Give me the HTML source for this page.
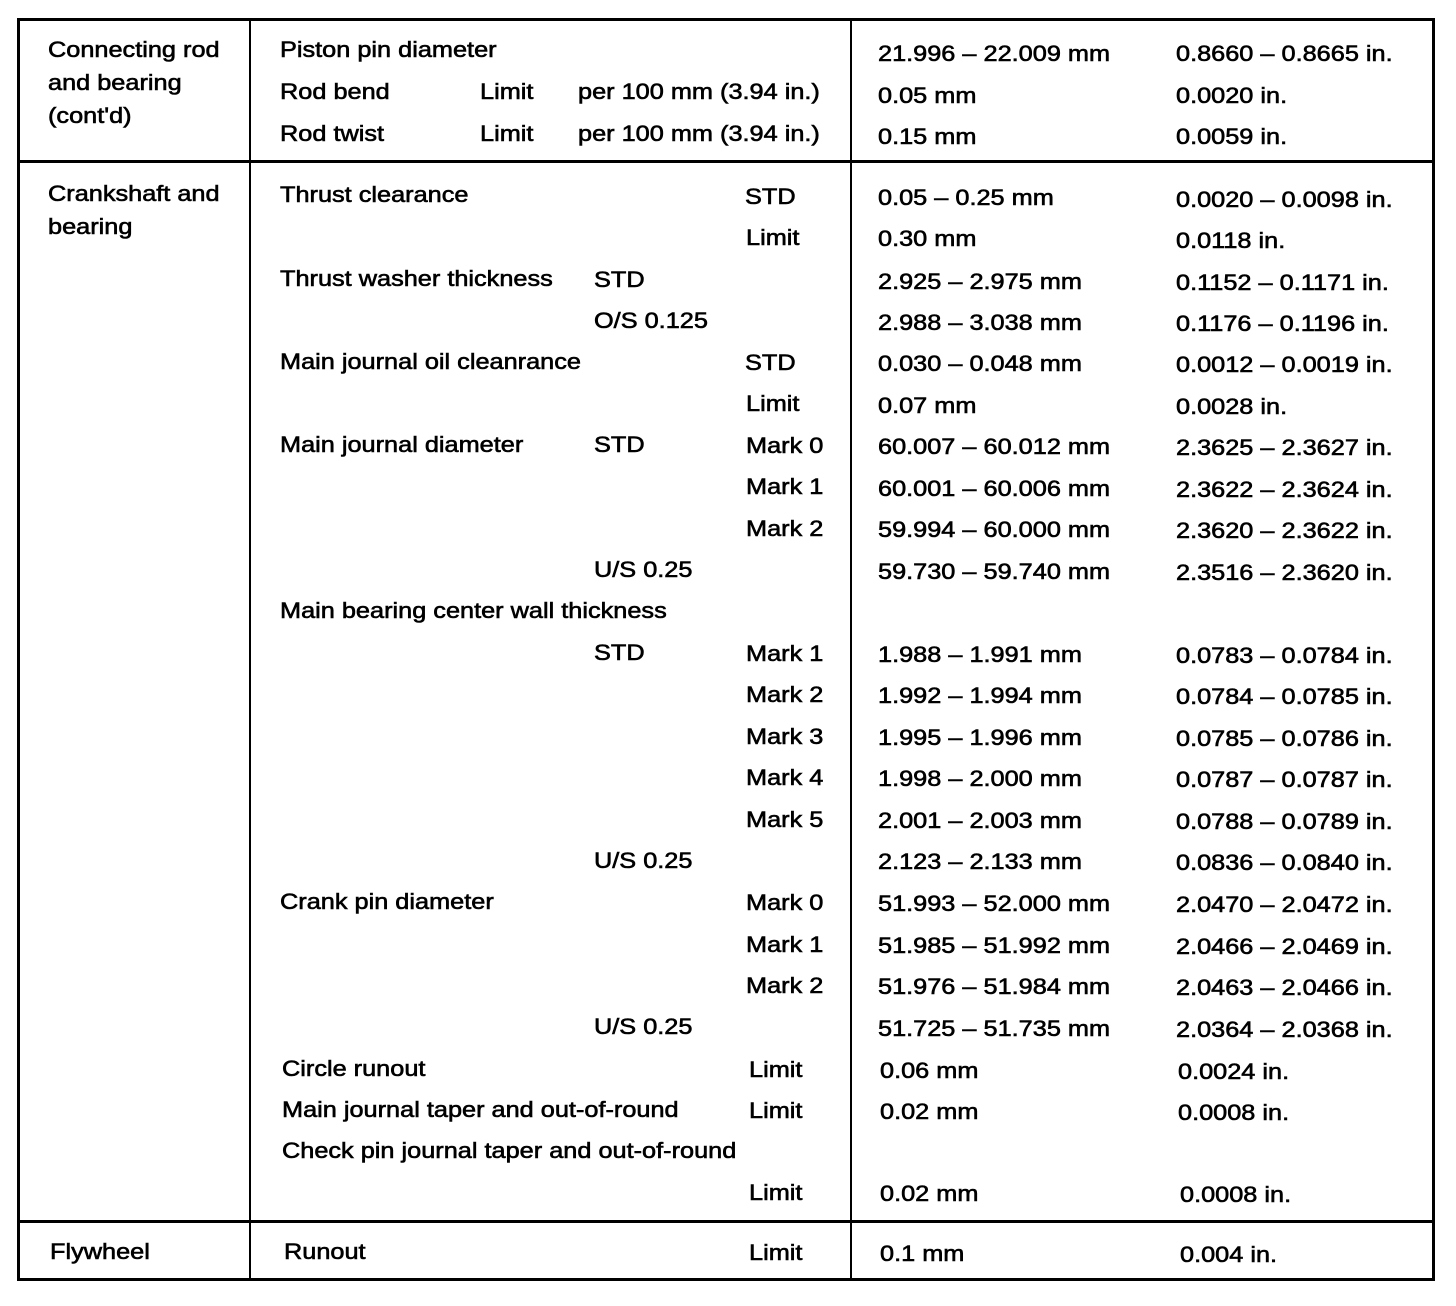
<!DOCTYPE html>
<html><head><meta charset="utf-8"><style>
body{margin:0;background:#fff;width:1456px;height:1306px;position:relative;overflow:hidden;font-family:"Liberation Sans",Arial,sans-serif;}
.t{position:absolute;font-size:22px;line-height:26px;color:#000;white-space:nowrap;-webkit-text-stroke:0.6px #000;transform:scaleX(1.15);transform-origin:0 0;}
.h{position:absolute;height:3px;background:#000;}
.v{position:absolute;width:2px;background:#000;}
</style></head><body>
<div class="h" style="left:17px;top:18px;width:1418px"></div>
<div class="h" style="left:17px;top:160px;width:1418px"></div>
<div class="h" style="left:17px;top:1220px;width:1418px"></div>
<div class="h" style="left:17px;top:1278px;width:1418px"></div>
<div class="v" style="left:17px;top:18px;height:1263px;width:3px"></div>
<div class="v" style="left:1432px;top:18px;height:1263px;width:3px"></div>
<div class="v" style="left:249px;top:18px;height:1263px"></div>
<div class="v" style="left:850px;top:18px;height:1263px"></div>

<div class="t" style="left:48px;top:37px">Connecting rod</div>
<div class="t" style="left:48px;top:70px">and bearing</div>
<div class="t" style="left:48px;top:103px">(cont'd)</div>
<div class="t" style="left:48px;top:181px">Crankshaft and</div>
<div class="t" style="left:48px;top:214px">bearing</div>
<div class="t" style="left:50px;top:1239px">Flywheel</div>

<div class="t" style="left:280px;top:37px">Piston pin diameter</div>
<div class="t" style="left:280px;top:79px">Rod bend</div>
<div class="t" style="left:480px;top:79px">Limit</div>
<div class="t" style="left:578px;top:79px">per 100 mm (3.94 in.)</div>
<div class="t" style="left:280px;top:121px">Rod twist</div>
<div class="t" style="left:480px;top:121px">Limit</div>
<div class="t" style="left:578px;top:121px">per 100 mm (3.94 in.)</div>
<div class="t" style="left:878px;top:41px">21.996 – 22.009 mm</div>
<div class="t" style="left:1176px;top:41px">0.8660 – 0.8665 in.</div>
<div class="t" style="left:878px;top:83px">0.05 mm</div>
<div class="t" style="left:1176px;top:83px">0.0020 in.</div>
<div class="t" style="left:878px;top:124px">0.15 mm</div>
<div class="t" style="left:1176px;top:124px">0.0059 in.</div>

<div class="t" style="left:280px;top:182px">Thrust clearance</div>
<div class="t" style="left:745px;top:184px">STD</div>
<div class="t" style="left:878px;top:185px">0.05 – 0.25 mm</div>
<div class="t" style="left:1176px;top:187px">0.0020 – 0.0098 in.</div>
<div class="t" style="left:746px;top:225px">Limit</div>
<div class="t" style="left:878px;top:226px">0.30 mm</div>
<div class="t" style="left:1176px;top:228px">0.0118 in.</div>
<div class="t" style="left:280px;top:266px">Thrust washer thickness</div>
<div class="t" style="left:594px;top:267px">STD</div>
<div class="t" style="left:878px;top:269px">2.925 – 2.975 mm</div>
<div class="t" style="left:1176px;top:270px">0.1152 – 0.1171 in.</div>
<div class="t" style="left:594px;top:308px">O/S 0.125</div>
<div class="t" style="left:878px;top:310px">2.988 – 3.038 mm</div>
<div class="t" style="left:1176px;top:311px">0.1176 – 0.1196 in.</div>
<div class="t" style="left:280px;top:349px">Main journal oil cleanrance</div>
<div class="t" style="left:745px;top:350px">STD</div>
<div class="t" style="left:878px;top:351px">0.030 – 0.048 mm</div>
<div class="t" style="left:1176px;top:352px">0.0012 – 0.0019 in.</div>
<div class="t" style="left:746px;top:391px">Limit</div>
<div class="t" style="left:878px;top:393px">0.07 mm</div>
<div class="t" style="left:1176px;top:394px">0.0028 in.</div>
<div class="t" style="left:280px;top:432px">Main journal diameter</div>
<div class="t" style="left:594px;top:432px">STD</div>
<div class="t" style="left:746px;top:433px">Mark 0</div>
<div class="t" style="left:878px;top:434px">60.007 – 60.012 mm</div>
<div class="t" style="left:1176px;top:435px">2.3625 – 2.3627 in.</div>
<div class="t" style="left:746px;top:474px">Mark 1</div>
<div class="t" style="left:878px;top:476px">60.001 – 60.006 mm</div>
<div class="t" style="left:1176px;top:477px">2.3622 – 2.3624 in.</div>
<div class="t" style="left:746px;top:516px">Mark 2</div>
<div class="t" style="left:878px;top:517px">59.994 – 60.000 mm</div>
<div class="t" style="left:1176px;top:518px">2.3620 – 2.3622 in.</div>
<div class="t" style="left:594px;top:557px">U/S 0.25</div>
<div class="t" style="left:878px;top:559px">59.730 – 59.740 mm</div>
<div class="t" style="left:1176px;top:560px">2.3516 – 2.3620 in.</div>
<div class="t" style="left:280px;top:598px">Main bearing center wall thickness</div>
<div class="t" style="left:594px;top:640px">STD</div>
<div class="t" style="left:746px;top:641px">Mark 1</div>
<div class="t" style="left:878px;top:642px">1.988 – 1.991 mm</div>
<div class="t" style="left:1176px;top:643px">0.0783 – 0.0784 in.</div>
<div class="t" style="left:746px;top:682px">Mark 2</div>
<div class="t" style="left:878px;top:683px">1.992 – 1.994 mm</div>
<div class="t" style="left:1176px;top:684px">0.0784 – 0.0785 in.</div>
<div class="t" style="left:746px;top:724px">Mark 3</div>
<div class="t" style="left:878px;top:725px">1.995 – 1.996 mm</div>
<div class="t" style="left:1176px;top:726px">0.0785 – 0.0786 in.</div>
<div class="t" style="left:746px;top:765px">Mark 4</div>
<div class="t" style="left:878px;top:766px">1.998 – 2.000 mm</div>
<div class="t" style="left:1176px;top:767px">0.0787 – 0.0787 in.</div>
<div class="t" style="left:746px;top:807px">Mark 5</div>
<div class="t" style="left:878px;top:808px">2.001 – 2.003 mm</div>
<div class="t" style="left:1176px;top:809px">0.0788 – 0.0789 in.</div>
<div class="t" style="left:594px;top:848px">U/S 0.25</div>
<div class="t" style="left:878px;top:849px">2.123 – 2.133 mm</div>
<div class="t" style="left:1176px;top:850px">0.0836 – 0.0840 in.</div>
<div class="t" style="left:280px;top:889px">Crank pin diameter</div>
<div class="t" style="left:746px;top:890px">Mark 0</div>
<div class="t" style="left:878px;top:891px">51.993 – 52.000 mm</div>
<div class="t" style="left:1176px;top:892px">2.0470 – 2.0472 in.</div>
<div class="t" style="left:746px;top:932px">Mark 1</div>
<div class="t" style="left:878px;top:933px">51.985 – 51.992 mm</div>
<div class="t" style="left:1176px;top:934px">2.0466 – 2.0469 in.</div>
<div class="t" style="left:746px;top:973px">Mark 2</div>
<div class="t" style="left:878px;top:974px">51.976 – 51.984 mm</div>
<div class="t" style="left:1176px;top:975px">2.0463 – 2.0466 in.</div>
<div class="t" style="left:594px;top:1014px">U/S 0.25</div>
<div class="t" style="left:878px;top:1016px">51.725 – 51.735 mm</div>
<div class="t" style="left:1176px;top:1017px">2.0364 – 2.0368 in.</div>
<div class="t" style="left:282px;top:1056px">Circle runout</div>
<div class="t" style="left:749px;top:1057px">Limit</div>
<div class="t" style="left:880px;top:1058px">0.06 mm</div>
<div class="t" style="left:1178px;top:1059px">0.0024 in.</div>
<div class="t" style="left:282px;top:1097px">Main journal taper and out-of-round</div>
<div class="t" style="left:749px;top:1098px">Limit</div>
<div class="t" style="left:880px;top:1099px">0.02 mm</div>
<div class="t" style="left:1178px;top:1100px">0.0008 in.</div>
<div class="t" style="left:282px;top:1138px">Check pin journal taper and out-of-round</div>
<div class="t" style="left:749px;top:1180px">Limit</div>
<div class="t" style="left:880px;top:1181px">0.02 mm</div>
<div class="t" style="left:1180px;top:1182px">0.0008 in.</div>

<div class="t" style="left:284px;top:1239px">Runout</div>
<div class="t" style="left:749px;top:1240px">Limit</div>
<div class="t" style="left:880px;top:1241px">0.1 mm</div>
<div class="t" style="left:1180px;top:1242px">0.004 in.</div>
</body></html>
